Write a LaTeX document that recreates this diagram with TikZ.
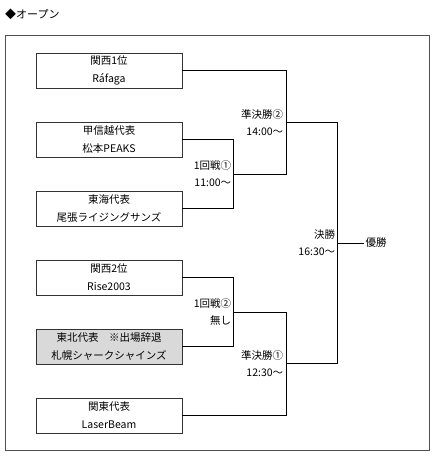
\documentclass[tikz,border=0pt]{standalone}
\usepackage{fontspec}
\setmainfont{Noto Sans CJK JP}
\usetikzlibrary{positioning,calc}
\definecolor{framegray}{HTML}{505050}
\definecolor{boxline}{HTML}{333333}
\definecolor{declinefill}{HTML}{D9D9D9}
\tikzset{
  teambox/.style={draw=boxline,line width=0.8pt,fill=white,align=center,minimum width=146pt,minimum height=35pt,inner sep=0pt,font=\fontsize{10.5}{18}\selectfont},
  declinebox/.style={teambox,fill=declinefill},
  bracket/.style={draw=black,line width=0.8pt},
  roundlabel/.style={anchor=east,align=right,inner sep=1pt,font=\fontsize{10.5}{17}\selectfont}
}

\begin{document}
\begin{tikzpicture}[x=1pt,y=-1pt,node distance=33.2pt]
  \useasboundingbox (0,0) rectangle (439,457);
  \node[anchor=west,inner sep=0pt,font=\fontsize{11}{13}\selectfont] (title) at (5,14) {◆オープン};
  \node[draw=framegray,line width=1.3pt,minimum width=424pt,minimum height=415pt,anchor=north west,inner sep=0pt] (frame) at (5,35) {};

  % teams
  \node[teambox] (kansai1) at (109,70.5) {関西1位\\Ráfaga};
  \node[teambox,below=of kansai1] (koshinetsu) {甲信越代表\\松本PEAKS};
  \node[teambox,below=of koshinetsu] (tokai) {東海代表\\尾張ライジングサンズ};
  \node[teambox,below=of tokai] (kansai2) {関西2位\\Rise2003};
  \node[declinebox,below=of kansai2] (tohoku) {東北代表　※出場辞退\\札幌シャークシャインズ};
  \node[teambox,below=of tohoku] (kanto) {関東代表\\LaserBeam};

  % junctions
  \coordinate (r1) at ($(koshinetsu.east)!.5!(tokai.east)+(51,0)$);
  \coordinate (r2) at ($(kansai2.east)!.5!(tohoku.east)+(51,0)$);
  \coordinate (s2) at ($(kansai1.east)!.5!(r1)+(78.5,0)$);
  \coordinate (s1) at ($(r2)!.5!(kanto.east)+(78.5,0)$);
  \coordinate (f) at ($(s2)!.5!(s1)+(51,0)$);
  \node[anchor=west,inner sep=1pt,font=\fontsize{10.5}{13}\selectfont] (champion) at ($(f)+(27,0)$) {優勝};

  \draw[bracket] (koshinetsu.east) -| (r1) |- (tokai.east);
  \draw[bracket] (kansai1.east) -| (s2) |- (r1);
  \draw[bracket] (kansai2.east) -| (r2) |- (tohoku.east);
  \draw[bracket] (r2) -| (s1) |- (kanto.east);
  \draw[bracket] (s2) -| (f) |- (s1);
  \draw[bracket] (f) -- (champion);

  % rounds
  \node[roundlabel] (r1label) at ([xshift=-1pt]r1) {1回戦①\\11:00～};
  \node[roundlabel] (r2label) at ([xshift=-1pt]r2) {1回戦②\\無し};
  \node[roundlabel] (s2label) at ([xshift=-2pt]s2) {準決勝②\\14:00～};
  \node[roundlabel] (s1label) at ([xshift=-2pt]s1) {準決勝①\\12:30～};
  \node[roundlabel] (flabel) at ([xshift=-1pt]f) {決勝\\16:30～};
\end{tikzpicture}
\end{document}
